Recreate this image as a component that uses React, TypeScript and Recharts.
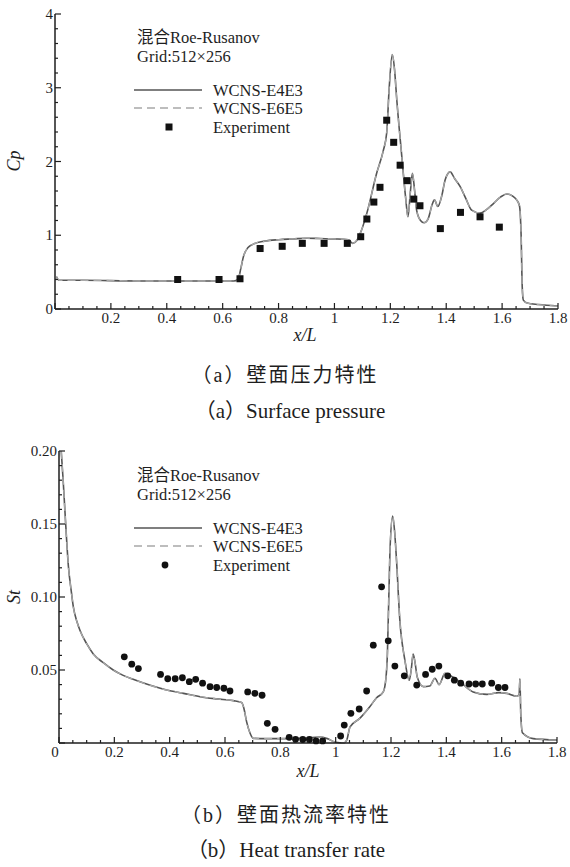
import { ComposedChart, Line, Scatter, XAxis, YAxis } from 'recharts'

const INK = '#1e1e1e'
const SERIF = "'Liberation Serif', 'DejaVu Serif', serif, 'Noto Sans CJK SC'"

// tick positions
const xMajor = [0, 0.2, 0.4, 0.6, 0.8, 1, 1.2, 1.4, 1.6, 1.8]
const cpMajor = [0, 1, 2, 3, 4]
const stMajor = [0, 0.05, 0.1, 0.15, 0.2]

// (a) surface pressure: [x/L, Cp]
const cpCurvePts: [number, number][] = [
  [0.005, 0.44], [0.015, 0.39], [0.1, 0.39], [0.3, 0.38], [0.5, 0.38], [0.64, 0.38],
  [0.655, 0.4], [0.665, 0.55], [0.675, 0.72], [0.69, 0.83], [0.71, 0.88], [0.75, 0.92],
  [0.8, 0.94], [0.85, 0.95], [0.9, 0.96], [0.95, 0.955], [1.0, 0.95], [1.05, 0.94],
  [1.065, 0.89], [1.08, 0.93], [1.095, 1.05], [1.116, 1.3], [1.151, 1.84], [1.175, 2.15],
  [1.187, 2.39], [1.196, 3.0], [1.207, 3.45], [1.215, 3.25], [1.223, 2.84], [1.241, 2.07],
  [1.255, 1.5], [1.263, 1.25], [1.272, 1.6], [1.279, 1.84], [1.287, 1.6], [1.294, 1.34],
  [1.308, 1.2], [1.321, 1.17], [1.335, 1.22], [1.35, 1.42], [1.358, 1.48], [1.37, 1.39],
  [1.385, 1.55], [1.396, 1.75], [1.414, 1.86], [1.43, 1.77], [1.45, 1.66], [1.47, 1.5],
  [1.491, 1.34], [1.521, 1.3], [1.545, 1.35], [1.569, 1.43], [1.595, 1.52], [1.617, 1.56],
  [1.638, 1.53], [1.652, 1.48], [1.662, 1.4], [1.668, 1.0], [1.672, 0.3], [1.676, 0.12],
  [1.69, 0.08], [1.73, 0.06], [1.8, 0.04],
]
const cpExpPts: [number, number][] = [
  [0.439, 0.4], [0.587, 0.4], [0.662, 0.41], [0.734, 0.82], [0.813, 0.85], [0.885, 0.89],
  [0.963, 0.89], [1.046, 0.89], [1.094, 0.98], [1.116, 1.22], [1.141, 1.45], [1.163, 1.65],
  [1.187, 2.56], [1.212, 2.26], [1.235, 1.95], [1.26, 1.74], [1.284, 1.49], [1.306, 1.4],
  [1.379, 1.09], [1.451, 1.31], [1.521, 1.25], [1.59, 1.11],
]

// (b) heat transfer rate: [x/L, St]
const stCurvePts: [number, number][] = [
  [0.008, 0.2], [0.015, 0.18], [0.022, 0.157], [0.034, 0.121], [0.045, 0.103], [0.052, 0.093],
  [0.065, 0.083], [0.076, 0.077], [0.1, 0.068], [0.124, 0.061], [0.16, 0.055], [0.196, 0.05],
  [0.23, 0.0465], [0.268, 0.0436], [0.33, 0.0395], [0.389, 0.0363], [0.45, 0.034], [0.51, 0.0317],
  [0.57, 0.0302], [0.63, 0.029], [0.66, 0.0277], [0.668, 0.024], [0.678, 0.0146], [0.69, 0.007],
  [0.702, 0.0032], [0.75, 0.003], [0.85, 0.003], [0.9, 0.0035], [0.94, 0.004], [0.97, 0.003],
  [1.0, 0.0005], [1.03, 0.0], [1.04, 0.002], [1.052, 0.011], [1.088, 0.017], [1.124, 0.025],
  [1.148, 0.031], [1.172, 0.035], [1.182, 0.045], [1.187, 0.061], [1.196, 0.13], [1.206, 0.1555],
  [1.213, 0.145], [1.22, 0.125], [1.232, 0.084], [1.25, 0.057], [1.266, 0.043], [1.273, 0.05],
  [1.28, 0.061], [1.287, 0.055], [1.295, 0.045], [1.317, 0.0386], [1.34, 0.039], [1.359, 0.0443],
  [1.374, 0.04], [1.395, 0.0477], [1.425, 0.045], [1.461, 0.04], [1.497, 0.035], [1.546, 0.0333],
  [1.59, 0.0345], [1.618, 0.034], [1.655, 0.032], [1.663, 0.033], [1.666, 0.044], [1.669, 0.02],
  [1.675, 0.007], [1.714, 0.003], [1.8, 0.002],
]
const stExpPts: [number, number][] = [
  [0.236, 0.059], [0.263, 0.054], [0.287, 0.051], [0.367, 0.047], [0.393, 0.044], [0.42, 0.044],
  [0.446, 0.0447], [0.471, 0.042], [0.494, 0.0436], [0.519, 0.041], [0.546, 0.0386], [0.57, 0.038],
  [0.596, 0.0375], [0.618, 0.0356], [0.682, 0.035], [0.708, 0.034], [0.734, 0.0327], [0.753, 0.0135],
  [0.781, 0.0094], [0.832, 0.0039], [0.855, 0.0025], [0.881, 0.0024], [0.905, 0.0024], [0.929, 0.0014],
  [0.953, 0.0014], [1.018, 0.0048], [1.031, 0.0123], [1.055, 0.0203], [1.085, 0.0233], [1.112, 0.0356],
  [1.136, 0.067], [1.166, 0.107], [1.19, 0.07], [1.214, 0.0527], [1.248, 0.046], [1.293, 0.0397],
  [1.325, 0.047], [1.349, 0.0505], [1.373, 0.0527], [1.405, 0.046], [1.429, 0.043], [1.452, 0.041],
  [1.482, 0.0404], [1.506, 0.0404], [1.53, 0.0404], [1.564, 0.041], [1.588, 0.038], [1.612, 0.038],
]

const rows = (pts: [number, number][]) => pts.map(([x, y]) => ({ x, y }))

function withMinor(major: number[], parts: number) {
  const out: number[] = []
  major.forEach((m, i) => {
    out.push(m)
    const next = major[i + 1]
    if (next === undefined) return
    for (let k = 1; k < parts; k++) out.push(m + ((next - m) * k) / parts)
  })
  return out
}

const isMajor = (v: number, major: number[]) => major.some((m) => Math.abs(m - v) < 1e-9)

function XTick(props: any) {
  const { x, y, payload, major, hide, fmt, shift0 } = props
  const v = payload.value
  const big = isMajor(v, major)
  const showLabel = big && !hide.some((h: number) => Math.abs(h - v) < 1e-9)
  return (
    <g>
      <line x1={x} x2={x} y1={y} y2={y - (big ? 6 : 3)} stroke={INK} strokeWidth={1.2} />
      {showLabel && (
        <text x={x + (v === 0 ? shift0 : 0)} y={y + 14} textAnchor="middle" fontSize={15} fontFamily={SERIF} fill={INK}>
          {fmt(v)}
        </text>
      )}
    </g>
  )
}

function YTick(props: any) {
  const { x, y, payload, major, hide, fmt } = props
  const v = payload.value
  const big = isMajor(v, major)
  const showLabel = big && !hide.some((h: number) => Math.abs(h - v) < 1e-9)
  return (
    <g>
      <line x1={x} x2={x + (big ? 6 : 3)} y1={y} y2={y} stroke={INK} strokeWidth={1.2} />
      {showLabel && (
        <text x={x - 2} y={y + 5} textAnchor="end" fontSize={15} fontFamily={SERIF} fill={INK}>
          {fmt(v)}
        </text>
      )}
    </g>
  )
}

const fmtX = (v: number) => String(Number(v.toFixed(2)))
const square = (p: any) => <rect x={p.cx - 3.5} y={p.cy - 3.5} width={7} height={7} fill="#111" />
const dot = (p: any) => <circle cx={p.cx} cy={p.cy} r={3.4} fill="#111" />

interface PanelProps {
  curve: { x: number; y: number }[]
  exp: { x: number; y: number }[]
  yMajor: number[]
  yParts: number
  yHide: number[]
  xHide: number[]
  yFmt: (v: number) => string
  yAxisWidth: number
  height: number
  margin: { top: number; right: number; left: number; bottom: number }
  xAxisHeight: number
  marker: (p: any) => any
}

function Panel(p: PanelProps) {
  const axisStyle = { stroke: INK, strokeWidth: 1.5 }
  return (
    <ComposedChart width={570} height={p.height} margin={p.margin}>
      <XAxis
        type="number"
        dataKey="x"
        domain={[0, 1.8]}
        ticks={withMinor(xMajor, 4)}
        interval={0}
        tickSize={0}
        tickMargin={0}
        tickLine={false}
        axisLine={axisStyle}
        height={p.xAxisHeight}
        tick={<XTick major={xMajor} hide={p.xHide} fmt={fmtX} shift0={-4} />}
      />
      <YAxis
        type="number"
        dataKey="y"
        domain={[p.yMajor[0], p.yMajor[p.yMajor.length - 1]]}
        ticks={withMinor(p.yMajor, p.yParts)}
        interval={0}
        tickSize={0}
        tickMargin={0}
        tickLine={false}
        axisLine={axisStyle}
        width={p.yAxisWidth}
        tick={<YTick major={p.yMajor} hide={p.yHide} fmt={p.yFmt} />}
      />
      <Line
        data={p.curve}
        dataKey="y"
        name="WCNS-E4E3"
        type="monotone"
        stroke="#555"
        strokeWidth={1.6}
        dot={false}
        isAnimationActive={false}
      />
      <Line
        data={p.curve}
        dataKey="y"
        name="WCNS-E6E5"
        type="monotone"
        stroke="#a8a8a8"
        strokeWidth={1.3}
        strokeDasharray="8 5"
        dot={false}
        isAnimationActive={false}
      />
      <Scatter data={p.exp} dataKey="y" name="Experiment" shape={p.marker} isAnimationActive={false} />
    </ComposedChart>
  )
}

function LegendBlock({ x, y, marker }: { x: number; y: number; marker: 'square' | 'dot' }) {
  // y = centre of the first text line ("混合Roe-Rusanov")
  const t = { fontSize: 16.5, fontFamily: SERIF, fill: INK, dominantBaseline: 'central' as const }
  const r1 = y + 53
  const r2 = y + 71
  const r3 = y + 90
  return (
    <g>
      <text x={x} y={y} {...t}>混合Roe-Rusanov</text>
      <text x={x} y={y + 19} {...t}>Grid:512×256</text>
      <line x1={x - 3} x2={x + 65} y1={r1} y2={r1} stroke="#555" strokeWidth={1.6} />
      <line x1={x - 3} x2={x + 65} y1={r2} y2={r2} stroke="#a8a8a8" strokeWidth={1.4} strokeDasharray="8 5" />
      {marker === 'square' ? (
        <rect x={x + 28.5} y={r3 - 3.5} width={7} height={7} fill="#111" />
      ) : (
        <circle cx={x + 28} cy={r3} r={3.4} fill="#111" />
      )}
      <text x={x + 76} y={r1} {...t}>WCNS-E4E3</text>
      <text x={x + 76} y={r2} {...t}>WCNS-E6E5</text>
      <text x={x + 76} y={r3} {...t}>Experiment</text>
    </g>
  )
}

export default function App() {
  const italic = { fontSize: 18, fontFamily: SERIF, fontStyle: 'italic' as const, fill: INK }
  const cap = { fontFamily: SERIF, fill: INK, textAnchor: 'middle' as const, dominantBaseline: 'central' as const }
  return (
    <div style={{ position: 'absolute', left: 0, top: 0, width: 570, height: 867, background: '#fff' }}>
      <div style={{ position: 'absolute', left: 0, top: 0 }}>
        <Panel
          curve={rows(cpCurvePts)}
          exp={rows(cpExpPts)}
          yMajor={cpMajor}
          yParts={5}
          yHide={[]}
          xHide={[0]}
          yFmt={(v) => String(v)}
          yAxisWidth={55}
          height={330}
          margin={{ top: 14, right: 12, left: 0, bottom: 0 }}
          xAxisHeight={21}
          marker={square}
        />
      </div>
      <div style={{ position: 'absolute', left: 0, top: 430 }}>
        <Panel
          curve={rows(stCurvePts)}
          exp={rows(stExpPts)}
          yMajor={stMajor}
          yParts={5}
          yHide={[0]}
          xHide={[]}
          yFmt={(v) => v.toFixed(2)}
          yAxisWidth={59}
          height={335}
          margin={{ top: 21, right: 13, left: 0, bottom: 0 }}
          xAxisHeight={22}
          marker={dot}
        />
      </div>
      <svg width={570} height={867} style={{ position: 'absolute', left: 0, top: 0, pointerEvents: 'none' }}>
        <LegendBlock x={137} y={37} marker="square" />
        <LegendBlock x={137} y={475} marker="dot" />

        <text x={305} y={341} textAnchor="middle" {...italic}>x/L</text>
        <text x={308} y={777} textAnchor="middle" {...italic}>x/L</text>
        <text transform="translate(20,161) rotate(-90)" textAnchor="middle" {...italic}>Cp</text>
        <text transform="translate(20,597) rotate(-90)" textAnchor="middle" {...italic}>St</text>

        <text x={285} y={375} fontSize={20} letterSpacing={2} {...cap}>（a）壁面压力特性</text>
        <text x={290} y={411} fontSize={21} {...cap}>（a）Surface pressure</text>
        <text x={286} y={815} fontSize={20} letterSpacing={2} {...cap}>（b）壁面热流率特性</text>
        <text x={286} y={850} fontSize={21} {...cap}>（b）Heat transfer rate</text>
      </svg>
    </div>
  )
}
